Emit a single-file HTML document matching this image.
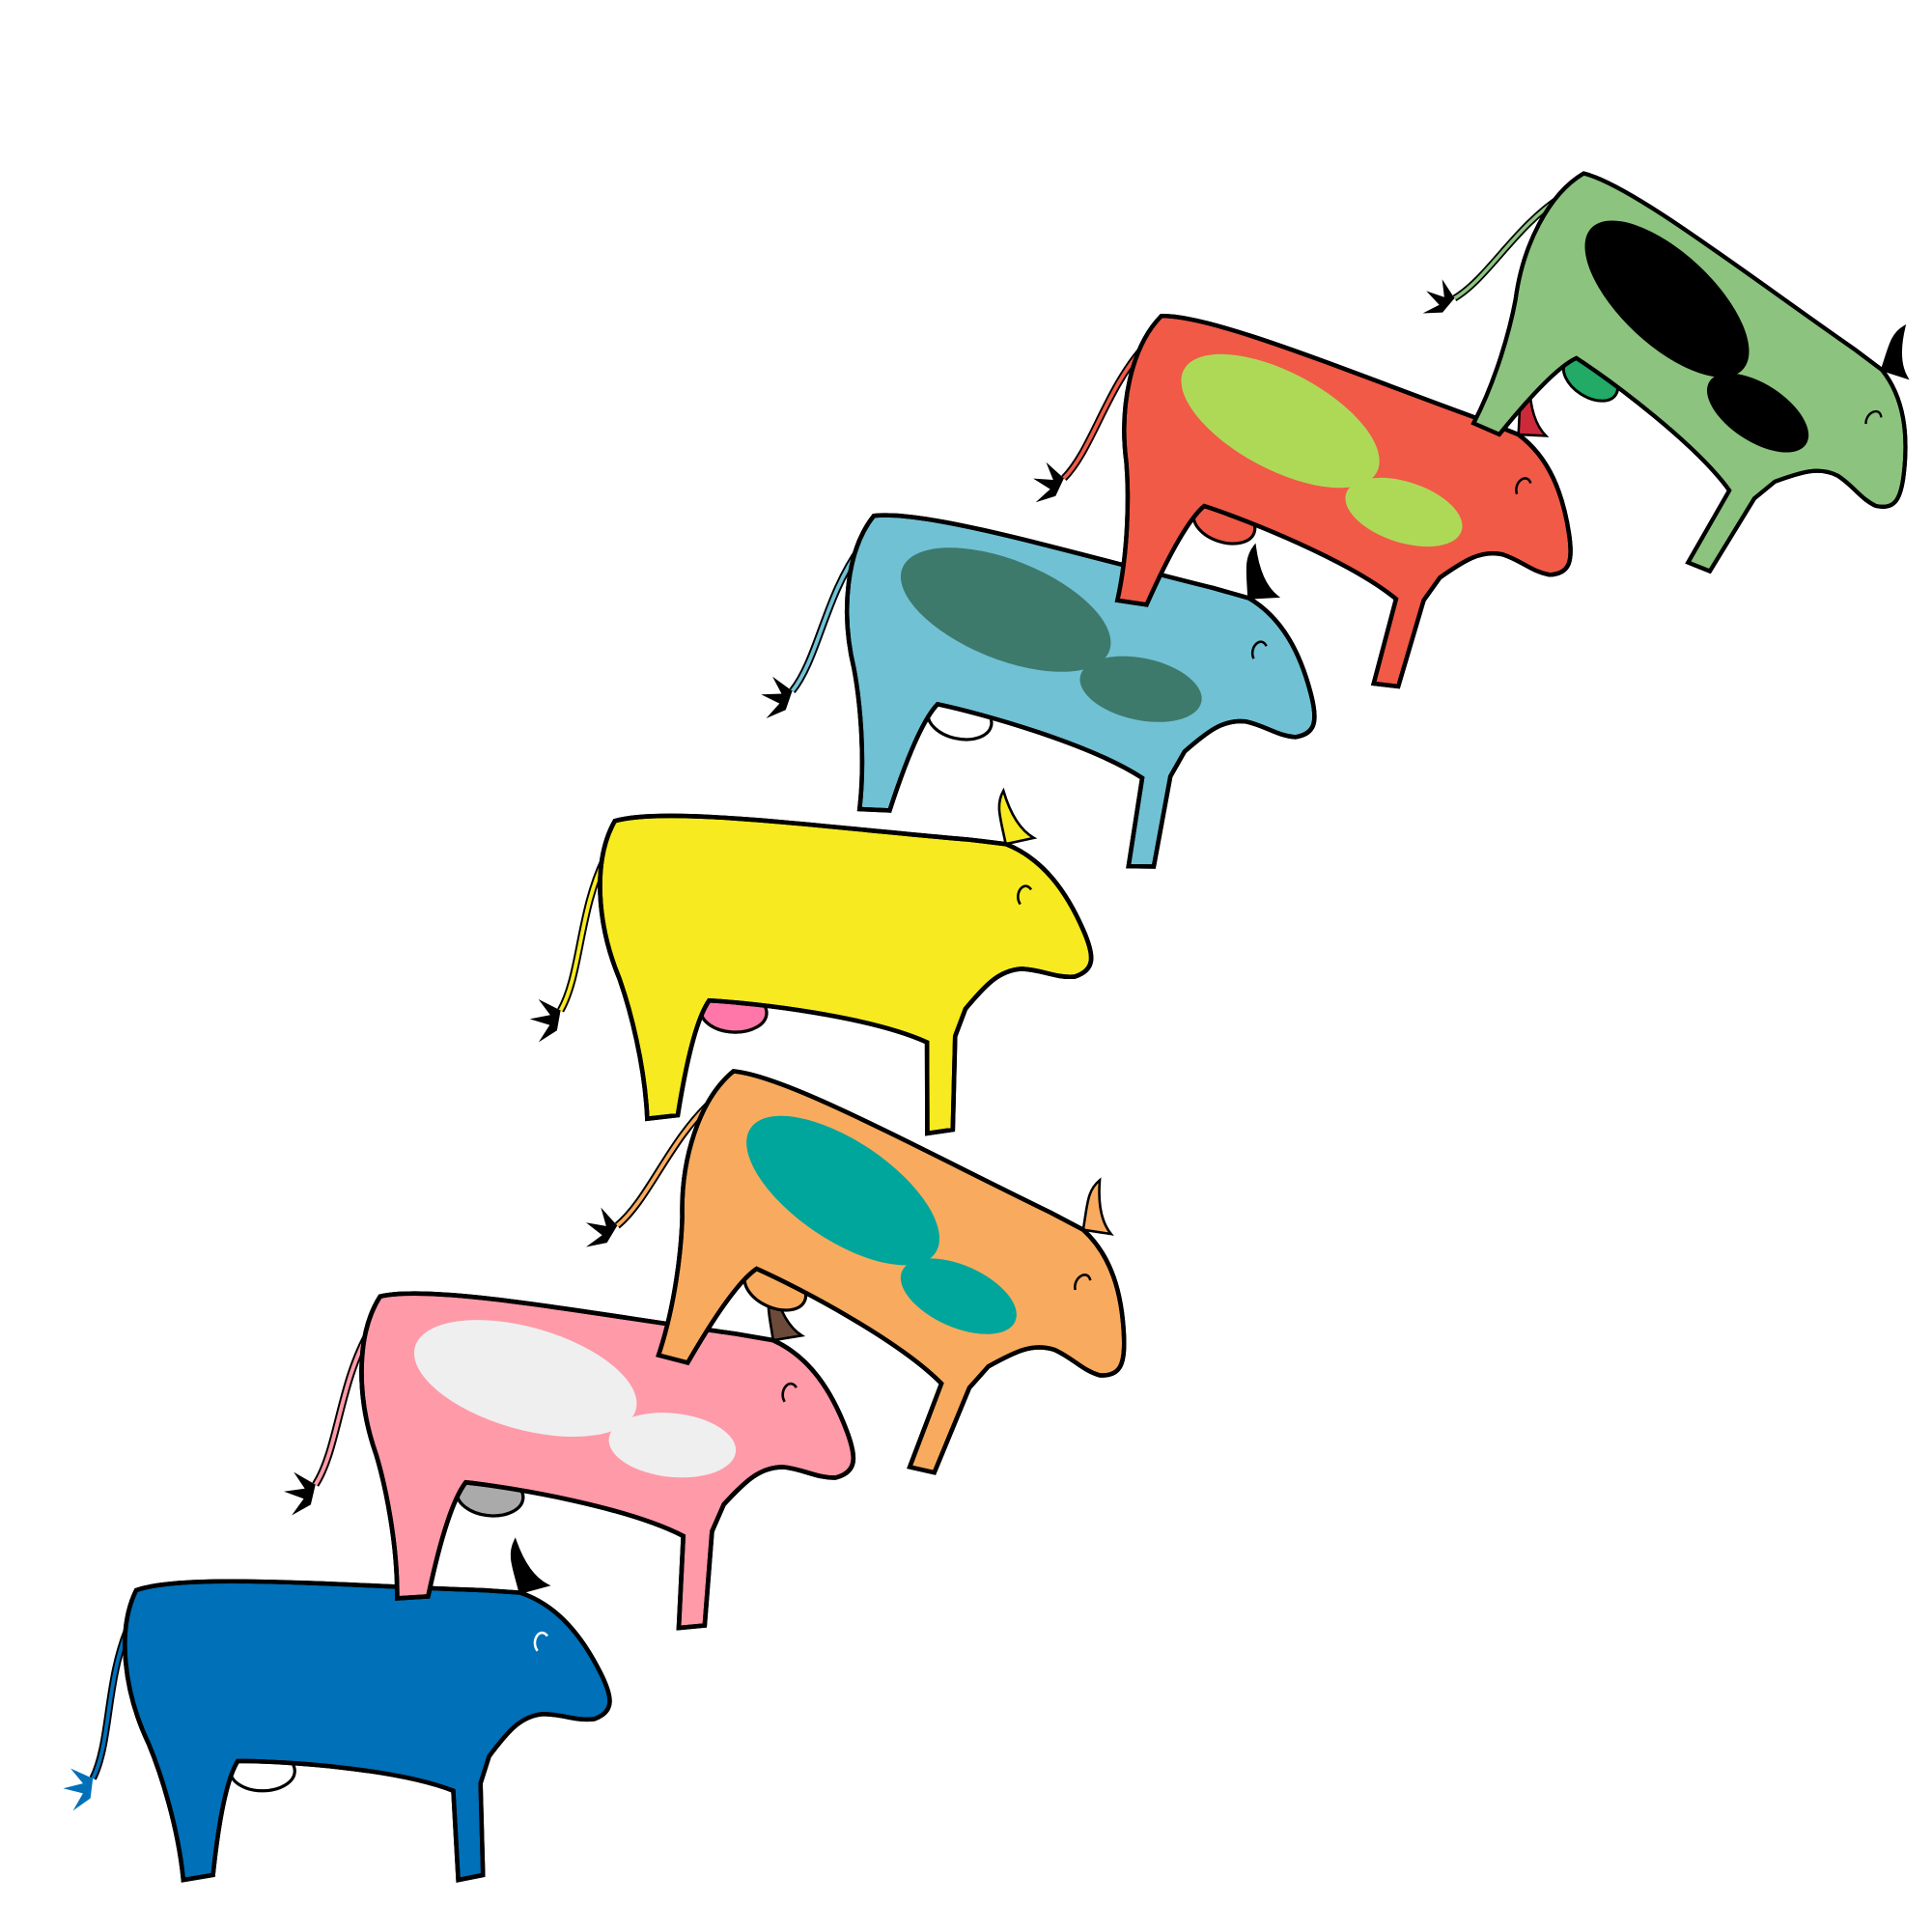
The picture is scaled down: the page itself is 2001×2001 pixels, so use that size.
<!DOCTYPE html>
<html><head><meta charset="utf-8">
<style>html,body{margin:0;padding:0;background:#fff}svg{display:block}</style></head>
<body>
<svg id="chart" width="2001" height="2001" viewBox="0 0 1560 1560" xmlns="http://www.w3.org/2000/svg">
<defs>
<path id="cowBody" d="M -160 -82 C -120 -96, 0 -86, 120 -82 L 150 -80 C 180 -70, 200 -45, 215 -15 C 225 5, 226 16, 210 22 C 195 24, 185 18, 168 18 C 150 20, 140 32, 125 52 L 118 74 L 120 148 L 100 152 L 96 80 C 50 62, -40 56, -78 56 C -88 72, -94 110, -98 148 L -122 152 C -126 110, -140 66, -150 42 C -170 0, -176 -50, -160 -82 Z"/>
</defs>
<g id="cows"></g>
</svg>
<script>
const cowNames = ['blue','pink','orange','yellow','light-blue','red','green'];
const cowX = [270, 462, 705, 655, 845, 1062, 1362];
const cowY = [1366, 1148, 1005, 755, 530, 380, 285];
const cowTilt = [0, 6, 24, 3, 12, 18, 33];
const cowScale = [1, 1.03, 1.0, 1.02, 1.0, 0.98, 0.93];
const cowFill = ['#0070b8','#ff9aa8','#f8ab5e','#f7ea21','#71c1d4','#f05a47','#8cc37e'];
const cowSpot = ['#0070b8','#efefef','#00a69b','#f7ea21','#3d7a6c','#aed957','#000000'];
const udderFill = ['#ffffff','#aaaaaa','#f8ab5e','#ff77a8','#ffffff','#f05a47','#22aa66'];
const NS='http://www.w3.org/2000/svg';
const g=document.getElementById('cows');
function mk(tag,attrs,parent){const e=document.createElementNS(NS,tag);for(const k in attrs)e.setAttribute(k,attrs[k]);parent.appendChild(e);return e;}
cowNames.forEach((n,i)=>{
  const cg=mk('g',{transform:`translate(${cowX[i]},${cowY[i]}) rotate(${cowTilt[i]}) scale(${cowScale[i]})`},g);
  
  
  const cid='clip'+i;
  const cp=mk('clipPath',{id:cid},cg);
  mk('use',{href:'#cowBody'},cp);
  const tail=mk('path',{d:'M -165 -55 C -185 -10, -180 40, -195 70',fill:'none',stroke:'#000','stroke-width':6},cg);
  
  
  mk('path',{d:'M -165 -55 C -185 -10, -180 40, -195 70',fill:'none',stroke:cowFill[i],'stroke-width':3},cg);
  const tuft=mk('path',{d:'M -195 70 l -18 -8 l 10 12 l -16 4 l 16 4 l -8 14 l 14 -10 z',fill:i==0?'#0070b8':'#000'},cg);
  
  
  const horn=mk('path',{d:'M 150 -80 C 145 -100, 140 -110, 146 -122 C 152 -105, 160 -92, 172 -86 Z',fill:i==1?'#6b4a3a':(i==5?'#cc2a3a':(i==3||i==2?cowFill[i]:'#000')),stroke:'#000','stroke-width':2},cg);
  
  
  const ud=mk('ellipse',{cx:-58,cy:64,rx:26,ry:16,fill:udderFill[i],stroke:'#000','stroke-width':2.5},cg);
  
  
  const body=mk('use',{href:'#cowBody',fill:cowFill[i],stroke:'#000','stroke-width':3.5},cg);
  
  
  const sg=mk('g',{'clip-path':`url(#${cid})`},cg);
  if(i!==0&&i!==3){
    const s1=mk('ellipse',{cx:-40,cy:-30,rx:90,ry:40,fill:cowSpot[i],transform:'rotate(10 -40 -30)'},sg);
    
    
    const s2=mk('ellipse',{cx:80,cy:10,rx:50,ry:25,fill:cowSpot[i]},sg);
    
    
  }
  mk('use',{href:'#cowBody',fill:'none',stroke:'#000','stroke-width':3.5},cg);
  const eye=mk('path',{d:'M 172 -45 c -6 -8 -14 4 -8 12',fill:'none',stroke:i==0?'#fff':'#000','stroke-width':2},cg);
  
  
});
</script>
</body></html>
